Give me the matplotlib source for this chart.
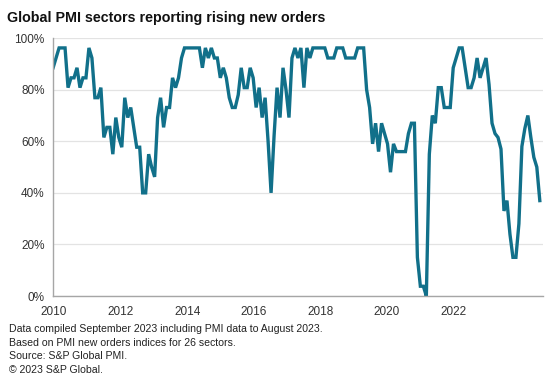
import numpy as np
import matplotlib
matplotlib.use('Agg')
import matplotlib.pyplot as plt

plt.rcParams['font.family'] = ['Liberation Sans', 'DejaVu Sans']

# % of the 26 sectors reporting rising new orders, monthly Jan 2010 - Aug 2023
share_rising = [
    88.5, 92.3, 96.2, 96.2, 96.2, 80.8, 84.6, 84.6, 88.5, 80.8, 84.6, 84.6,   # 2010
    96.2, 92.3, 76.9, 76.9, 80.8, 61.5, 65.4, 65.4, 55.0, 69.2, 61.5, 57.7,   # 2011
    76.9, 69.2, 73.1, 65.4, 57.7, 57.7, 40.0, 40.0, 55.0, 50.0, 46.2, 69.2,   # 2012
    76.9, 65.4, 73.1, 73.1, 84.6, 80.8, 84.6, 92.3, 96.2, 96.2, 96.2, 96.2,   # 2013
    96.2, 96.2, 88.5, 96.2, 92.3, 96.2, 92.3, 92.3, 84.6, 88.5, 84.6, 76.9,   # 2014
    73.1, 73.1, 78.0, 88.5, 80.8, 80.8, 88.5, 84.6, 73.1, 80.8, 69.2, 76.9,   # 2015
    60.0, 40.0, 62.0, 80.8, 69.2, 88.5, 80.0, 69.2, 92.3, 96.2, 92.3, 96.2,   # 2016
    80.8, 96.2, 92.3, 96.2, 96.2, 96.2, 96.2, 96.2, 92.3, 92.3, 92.3, 96.2,   # 2017
    96.2, 96.2, 92.3, 92.3, 92.3, 92.3, 96.2, 96.2, 96.2, 80.0, 73.1, 59.0,   # 2018
    67.0, 56.0, 67.0, 63.0, 59.0, 48.0, 59.0, 56.0, 56.0, 56.0, 56.0, 63.0,   # 2019
    67.0, 67.0, 15.0, 3.8, 3.8, 0.0, 55.0, 70.0, 67.0, 80.8, 80.8, 73.1,     # 2020
    73.1, 73.1, 88.5, 92.3, 96.2, 96.2, 88.5, 80.8, 80.8, 84.6, 92.3, 84.6,   # 2021
    88.5, 92.3, 82.0, 67.0, 63.0, 61.5, 57.0, 33.0, 37.0, 24.0, 15.0, 15.0,   # 2022
    28.0, 58.0, 65.0, 70.0, 61.5, 53.8, 50.0, 37.0,                           # 2023
]

y_ticks = [0, 20, 40, 60, 80, 100]
x_labels = ['2010', '2012', '2014', '2016', '2018', '2020', '2022']

months = np.arange(len(share_rising))

fig = plt.figure(figsize=(5.59, 3.89), dpi=100)
ax = fig.add_axes([0.095, 0.239, 0.876, 0.663])

ax.plot(months, share_rising, color='#11708a', linewidth=2.4, solid_joinstyle='miter')

ax.set_xlim(0, 164)
ax.set_ylim(0, 100)
ax.set_yticks(y_ticks)
ax.set_yticklabels([f'{v}%' for v in y_ticks])
# labels in the original sit about every 22.3 months
ax.set_xticks(np.arange(len(x_labels)) * 22.3 + 0.3)
ax.set_xticklabels(x_labels)
ax.tick_params(length=0, labelsize=8.5, colors='#333333', pad=6)
ax.tick_params(axis='x', pad=7)

ax.grid(axis='y', color='#e3e3e3', linewidth=0.9)
ax.set_axisbelow(True)
for side in ['top', 'right']:
    ax.spines[side].set_visible(False)
for side in ['left', 'bottom']:
    ax.spines[side].set_color('#a6a6a6')
    ax.spines[side].set_linewidth(1.0)

fig.text(0.013, 0.953, 'Global PMI sectors reporting rising new orders',
         fontsize=10.3, fontweight='bold', color='#111111', va='center')

notes = [
    'Data compiled September 2023 including PMI data to August 2023.',
    'Based on PMI new orders indices for 26 sectors.',
    'Source: S&P Global PMI.',
    '\u00a9 2023 S&P Global.',
]
for i, line in enumerate(notes):
    fig.text(0.016, 1 - (329 + i * 13.7) / 389, line, fontsize=7.6,
             color='#222222', va='center')

fig.savefig('out.png', dpi=100)
